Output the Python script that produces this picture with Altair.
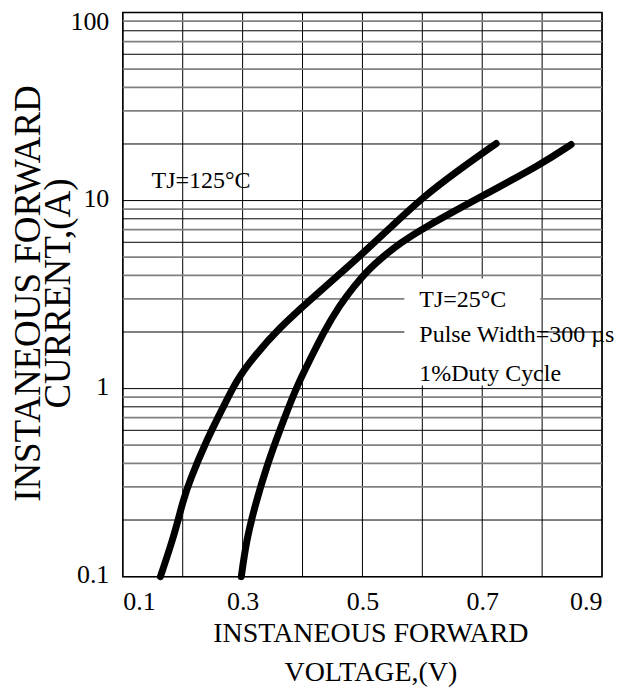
import altair as alt
import pandas as pd

# ---- data ----
# TJ = 125 C curve (left)
v_125 = [0.1628, 0.1867, 0.2005, 0.2117, 0.2395, 0.2672, 0.2895, 0.3172, 0.3617, 0.4117, 0.4617, 0.5, 0.55, 0.6, 0.6617, 0.7233]
i_125 = [0.1, 0.169, 0.254, 0.324, 0.529, 0.792, 1.103, 1.462, 2.111, 2.94, 4.06, 5.22, 7.36, 10.37, 14.62, 20.1]
# TJ = 25 C curve (right)
v_25 = [0.2978, 0.3062, 0.32, 0.3395, 0.3617, 0.3895, 0.4117, 0.4367, 0.4617, 0.4867, 0.5117, 0.5367, 0.5617, 0.6, 0.695, 0.8, 0.8483]
i_25 = [0.1, 0.1554, 0.234, 0.3815, 0.598, 1.016, 1.409, 2.035, 2.764, 3.53, 4.35, 5.10, 5.90, 7.10, 10.37, 15.7, 19.86]

x_grid = [0.1, 0.2, 0.3, 0.4, 0.5, 0.6, 0.7, 0.8, 0.9]
y_grid_dark = [0.1, 0.2, 0.6, 0.8, 1, 2, 6, 8, 10, 20, 60, 80, 100]
y_grid_light = [0.3, 0.4, 0.5, 0.7, 0.9, 3, 4, 5, 7, 9, 30, 40, 50, 70, 90]
x_labels = [0.1, 0.3, 0.5, 0.7, 0.9]
y_labels = [0.1, 1, 10, 100]

note_text = ["TJ=125°C", "TJ=25°C", "Pulse Width=300 µs", "1%Duty Cycle"]
note_v = [0.148, 0.595, 0.595, 0.595]
note_i = [11.7, 2.70, 1.76, 1.10]

box_v = [0.57]
box_v2 = [0.797]
box_i = [1.04]
box_i2 = [3.85]

FONT = "Liberation Serif"

curves = pd.DataFrame({
    "v": v_125 + v_25,
    "i": i_125 + i_25,
    "s": ["125"] * len(v_125) + ["25"] * len(v_25),
})

xscale = alt.Scale(domain=[0.1, 0.9], nice=False, zero=False)
yscale = alt.Scale(type="log", domain=[0.1, 100], nice=False)

x_axis = alt.Axis(
    values=x_labels, format=".1f", grid=False, ticks=False, domain=False,
    labelFont=FONT, labelFontSize=26, labelColor="black", labelPadding=12,
    title=["INSTANEOUS FORWARD", "VOLTAGE,(V)"],
    titleFont=FONT, titleFontSize=28, titleFontWeight="normal", titleColor="black",
    titleLineHeight=39, titleBaseline="alphabetic", titleAlign="center",
    titleX=248, titleY=65,
)
y_axis = alt.Axis(
    values=y_labels, grid=False, ticks=False, domain=False,
    labelFont=FONT, labelFontSize=26, labelColor="black", labelPadding=14,
    labelOffset={"condition": {"test": "datum.value >= 100", "value": 9}, "value": -2},
    labelExpr="datum.value >= 1 ? format(datum.value, 'd') : format(datum.value, '.1f')",
    title=["INSTANEOUS FORWARD", "CURRENT,(A)"],
    titleFont=FONT, titleFontSize=37, titleFontWeight="normal", titleColor="black",
    titleLineHeight=30, titleBaseline="alphabetic", titleAlign="center", titleAngle=270,
    titleX=-83, titleY=281,
)


def X(field):
    return alt.X(field, scale=xscale, axis=x_axis)


def Y(field):
    return alt.Y(field, scale=yscale, axis=y_axis)


vgrid = alt.Chart(pd.DataFrame({"v": x_grid})).mark_rule(color="#000", strokeWidth=1).encode(
    x=X("v:Q")
)
hdark = alt.Chart(pd.DataFrame({"i": y_grid_dark})).mark_rule(color="#000", strokeWidth=1).encode(
    y=Y("i:Q")
)
hlight = alt.Chart(pd.DataFrame({"i": y_grid_light})).mark_rule(color="#808080", strokeWidth=1.8).encode(
    y=Y("i:Q")
)
box = alt.Chart(pd.DataFrame({"v": box_v, "v2": box_v2, "i": box_i, "i2": box_i2})).mark_rect(
    color="white"
).encode(
    x=X("v:Q"), x2="v2:Q",
    y=Y("i:Q"), y2="i2:Q",
)

lines = alt.Chart(curves).mark_line(
    color="black", strokeWidth=7, strokeCap="round", strokeJoin="round", interpolate="basis"
).encode(
    x=X("v:Q"),
    y=Y("i:Q"),
    detail="s:N",
)

notes = alt.Chart(pd.DataFrame({"t": note_text, "v": note_v, "i": note_i})).mark_text(
    font=FONT, fontSize=24, color="black", align="left", baseline="alphabetic"
).encode(
    x=X("v:Q"),
    y=Y("i:Q"),
    text="t:N",
)

chart = alt.layer(vgrid, hlight, hdark, box, notes, lines).properties(
    width=480, height=565,
    padding={"left": 115, "top": 4, "right": 20, "bottom": 110},
    autosize=alt.AutoSizeParams(type="none"),
    background="white",
).configure_view(stroke="black", strokeWidth=1.5)

chart.save("out.html", embed_options={"renderer": "svg", "actions": False})
